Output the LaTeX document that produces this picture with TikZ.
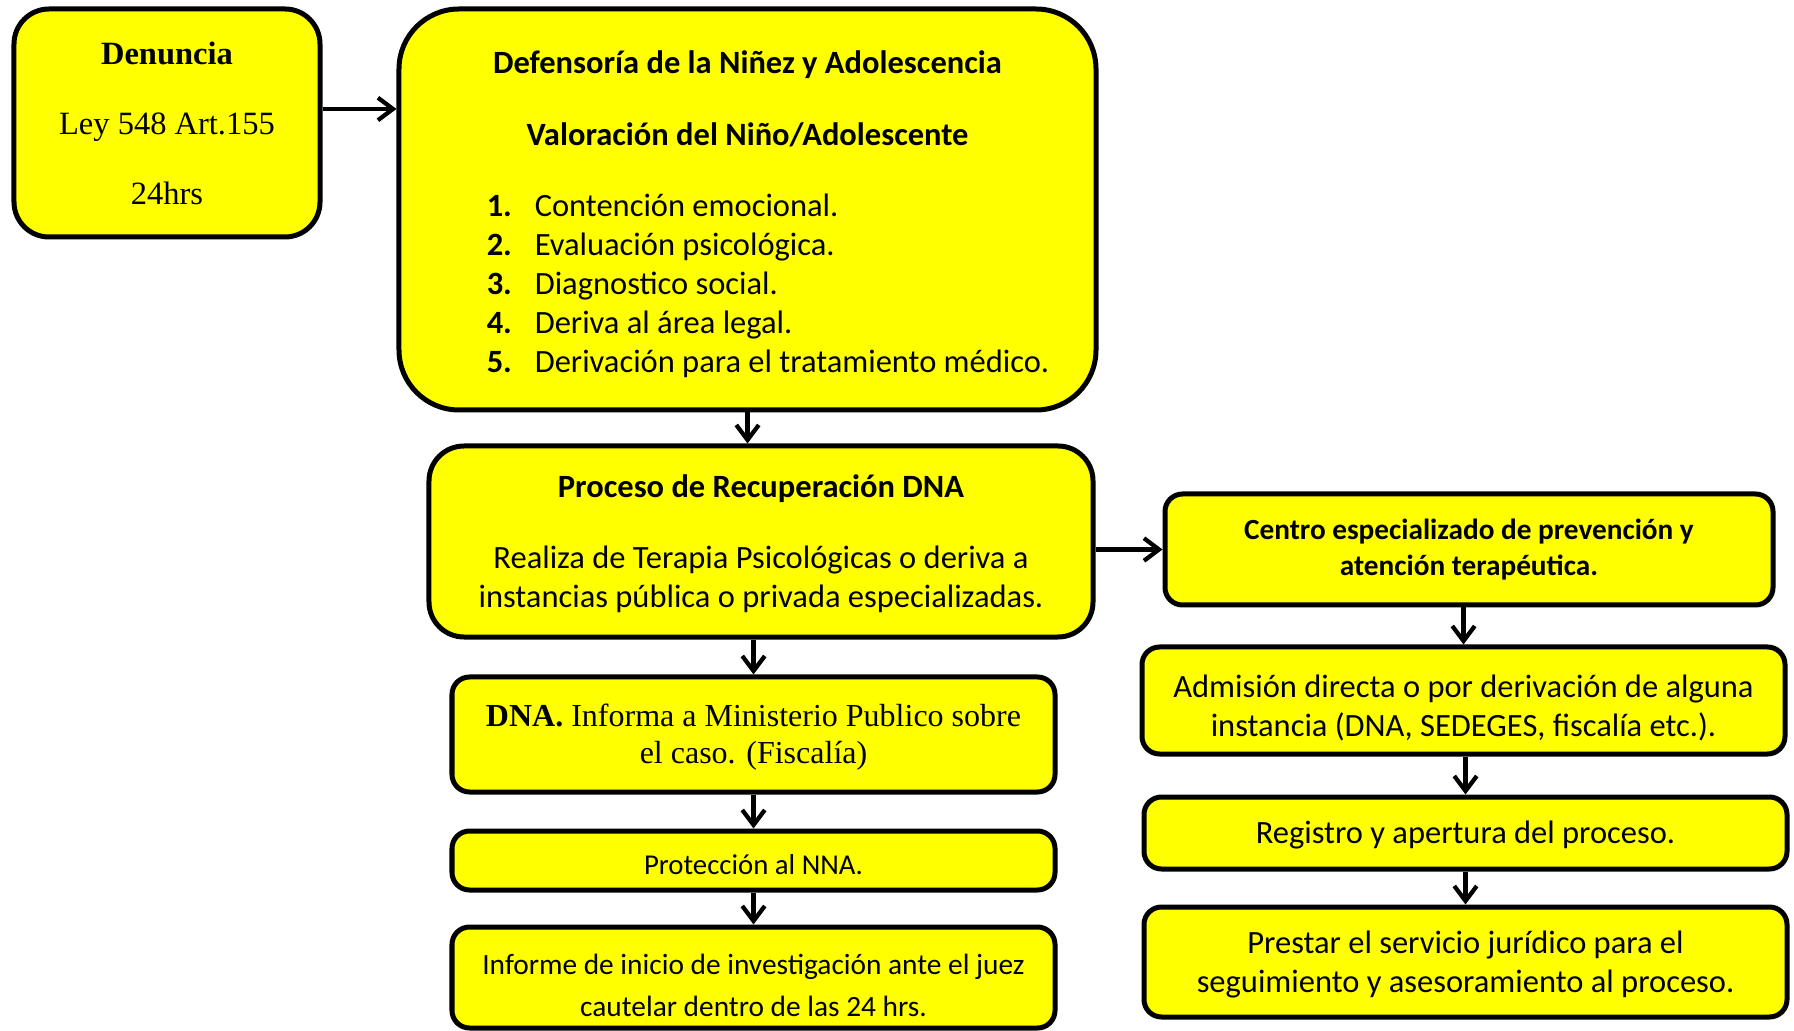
\documentclass[tikz,border=0pt]{standalone}
\usepackage{fontspec}
\setmainfont{Carlito}
\newfontfamily\timesfont{Liberation Serif}
\usetikzlibrary{positioning, arrows.meta}
\definecolor{boxyellow}{RGB}{255,255,0}

\begin{document}
\begin{tikzpicture}[x=0.4pt, y=-0.4pt,
   box/.style={draw, line width=2pt, fill=boxyellow, rounded corners=7pt,
               align=center, inner sep=0pt, font=\fontsize{13}{15.6}\selectfont},
   flow/.style={draw, -{Straight Barb[length=6pt,width=9pt]}, line width=1.7pt}]
\useasboundingbox (0,0) rectangle (1794,1031);
% left column
\node[box, rounded corners=14pt, minimum width=122.4pt, minimum height=91.2pt,
      font=\timesfont\fontsize{13}{28}\selectfont] (den) at (167,123)
      {\textbf{Denuncia}\\Ley 548 Art.155\\24hrs};
\node[box, rounded corners=24pt, minimum width=278.8pt, minimum height=160.4pt,
      text depth=60.7pt] (def) at (747.5,209.5)
      {\textbf{Defensoría de la Niñez y Adolescencia}\\[13.2pt]
       \textbf{Valoración del Niño/Adolescente}\\[12.8pt]
       \hspace*{16.4pt}\begin{tabular}[t]{@{}p{19.2pt}@{}l@{}}
       \textbf{1.} & Contención emocional.\\
       \textbf{2.} & Evaluación psicológica.\\
       \textbf{3.} & Diagnostico social.\\
       \textbf{4.} & Deriva al área legal.\\
       \textbf{5.} & Derivación para el tratamiento médico.
       \end{tabular}};
\node[box, rounded corners=14pt, minimum width=265.6pt, minimum height=76.4pt,
      text depth=0pt] (pro) at (761,541.5)
      {\textbf{Proceso de Recuperación DNA}\\[12.8pt]
       Realiza de Terapia Psicológicas o deriva a\\instancias pública o privada especializadas.};
\node[box, minimum width=241.2pt, minimum height=46pt, text depth=0.5pt,
      font=\timesfont\fontsize{12.8}{14.6}\selectfont] (dna) at (753.5,734.5)
      {\textbf{DNA.} Informa a Ministerio Publico sobre\\el caso. (Fiscalía)};
\node[box, minimum width=241.2pt, minimum height=23.6pt, text height=11.1pt, text depth=0pt,
      font=\fontsize{11.5}{14}\selectfont] (prot) at (753.5,860.5) {Protección al NNA.};
\node[box, minimum width=241.2pt, minimum height=40.4pt, text height=31.7pt, text depth=0.4pt,
      font=\fontsize{11.75}{16.8}\selectfont] (inf) at (753.5,977.5)
      {Informe de inicio de investigación ante el juez\\cautelar dentro de las 24 hrs.};
% right column
\node[box, minimum width=243.2pt, minimum height=44.4pt,
      font=\bfseries\fontsize{11.7}{14.2}\selectfont] (cen) at (1469,549.5)
      {Centro especializado de prevención y\\atención terapéutica.};
\node[box, minimum width=257.2pt, minimum height=42.8pt, text height=28.7pt, text depth=0pt] (adm) at (1463.5,700.5)
      {Admisión directa o por derivación de alguna\\instancia (DNA, SEDEGES, fiscalía etc.).};
\node[box, minimum width=257.2pt, minimum height=28.8pt, text depth=0.9pt] (reg) at (1465.5,833)
      {Registro y apertura del proceso.};
\node[box, minimum width=257.2pt, minimum height=44pt, text depth=0pt] (pre) at (1465.5,962)
      {Prestar el servicio jurídico para el\\seguimiento y asesoramiento al proceso.};
% arrows
\path ([yshift=5.6pt]den.east) edge[flow] ([yshift=5.6pt]den.east -| def.west)
  (def.south) edge[flow] (def.south |- pro.north)
  (pro.east |- cen.west) edge[flow] (cen.west)
  (pro.south -| dna.north) edge[flow] (dna.north)
  (dna.south) edge[flow] (prot.north)
  (prot.south) edge[flow] (inf.north)
  (cen.south -| adm.north) edge[flow] (adm.north)
  (adm.south -| reg.north) edge[flow] (reg.north)
  (reg.south) edge[flow] (pre.north);
\end{tikzpicture}
\end{document}
